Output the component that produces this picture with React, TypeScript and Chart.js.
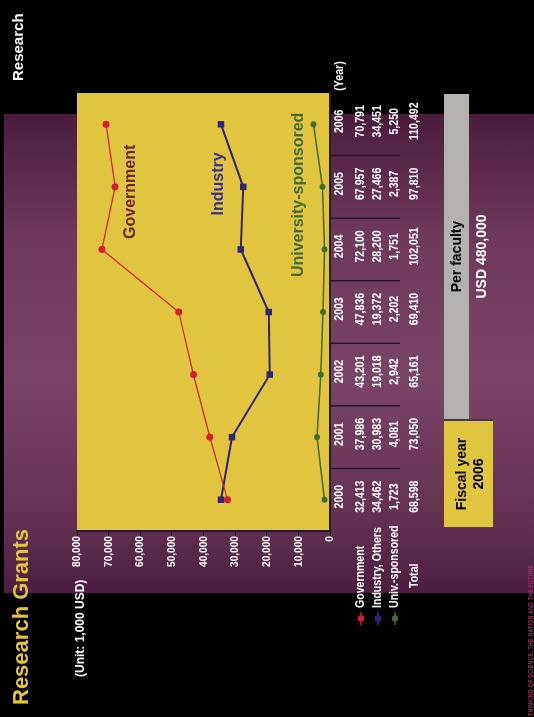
import React, { useEffect, useRef } from 'react';
import { Chart, registerables } from 'chart.js';

Chart.register(...registerables);

// ---- data ----
const YEARS = ['2000', '2001', '2002', '2003', '2004', '2005', '2006'];
const GOVERNMENT = [32413, 37986, 43201, 47836, 72100, 67957, 70791];
const INDUSTRY = [34462, 30983, 19018, 19372, 28200, 27466, 34451];
const UNIV = [1723, 4081, 2942, 2202, 1751, 2387, 5250];
const TOTAL = [68598, 73050, 65161, 69410, 102051, 97810, 110492];
const ROW_LABELS = ['Government', 'Industry, Others', 'Univ.-sponsored', 'Total'];
const SERIES_LABELS = ['Government', 'Industry', 'University-sponsored'];
const Y_MIN = 0;
const Y_MAX = 80000;
const Y_STEP = 10000;

// ---- styles ----
const C_GOV = '#d31f2e';
const C_IND = '#2d2576';
const C_UNI = '#3f6b32';
const C_GOV_LABEL = '#6c2626';
const C_IND_LABEL = '#3a3184';
const C_UNI_LABEL = '#3f6b32';
const PLOT_BG = '#e2c53f';
const FONT = '"Liberation Sans", Arial, sans-serif';

const W = 717;
const H = 534;

function txt(ctx: CanvasRenderingContext2D, s: string, x: number, y: number, font: string, color: string, align: CanvasTextAlign, sx = 1) {
  ctx.save();
  ctx.font = font;
  ctx.fillStyle = color;
  ctx.textAlign = align;
  ctx.textBaseline = 'middle';
  ctx.translate(x, y);
  ctx.scale(sx, 1);
  ctx.fillText(s, 0, 0);
  ctx.restore();
}

const fmt = (v: number) => v.toLocaleString('en-US');

const slidePlugin = {
  id: 'slidePlugin',
  beforeDraw(chart: any) {
    const { ctx, chartArea: a } = chart;
    ctx.save();
    ctx.fillStyle = PLOT_BG;
    ctx.fillRect(a.left, a.top, a.right - a.left, a.bottom - a.top);
    ctx.restore();
  },
  afterDraw(chart: any) {
    const { ctx, chartArea: a } = chart;
    const xs = chart.scales.x;
    const ys = chart.scales.y;
    const tickFont = `bold 11.5px ${FONT}`;
    const tblFont = `bold 12px ${FONT}`;
    const SX = 0.88;

    // y tick labels
    ys.ticks.forEach((t: any) => {
      txt(ctx, fmt(t.value), a.left - 5, ys.getPixelForValue(t.value), tickFont, '#ffffff', 'right', SX);
    });

    // series labels inside plot
    const lblFont = `bold 16px ${FONT}`;
    txt(ctx, SERIES_LABELS[0], xs.getPixelForValue(5) - 5, ys.getPixelForValue(63000), lblFont, C_GOV_LABEL, 'center');
    txt(ctx, SERIES_LABELS[1], xs.getPixelForValue(5) + 3, ys.getPixelForValue(35300), lblFont, C_IND_LABEL, 'center');
    txt(ctx, SERIES_LABELS[2], xs.getPixelForValue(5) - 8, ys.getPixelForValue(9800), lblFont, C_UNI_LABEL, 'center');

    // table
    const yearRow = a.bottom + 10;
    const rowY = [a.bottom + 31, a.bottom + 48, a.bottom + 65, a.bottom + 85];
    const rows = [GOVERNMENT, INDUSTRY, UNIV, TOTAL];
    YEARS.forEach((yr, i) => {
      const cx = xs.getPixelForValue(i) + 3;
      txt(ctx, yr, cx, yearRow, tblFont, '#ffffff', 'center', SX);
      rows.forEach((r, k) => {
        txt(ctx, fmt(r[i]), cx, rowY[k], tblFont, '#ffffff', 'center', SX);
      });
    });
    txt(ctx, '(Year)', a.right + 17, yearRow, tblFont, '#ffffff', 'center', SX);

    // column separators
    ctx.save();
    ctx.strokeStyle = '#2a1726';
    ctx.lineWidth = 1.5;
    for (let i = 0; i < YEARS.length - 1; i++) {
      const bx = (xs.getPixelForValue(i) + xs.getPixelForValue(i + 1)) / 2;
      ctx.beginPath();
      ctx.moveTo(bx, a.bottom);
      ctx.lineTo(bx, a.bottom + 70);
      ctx.stroke();
    }
    ctx.restore();

    // row labels + legend keys
    const keyL = 92;
    const keyR = 105;
    const keyC = 98.5;
    const colors = [C_GOV, C_IND, C_UNI];
    for (let k = 0; k < 3; k++) {
      const y = rowY[k];
      ctx.save();
      ctx.strokeStyle = colors[k];
      ctx.fillStyle = colors[k];
      ctx.lineWidth = k === 1 ? 2 : 1.5;
      ctx.beginPath();
      ctx.moveTo(keyL, y);
      ctx.lineTo(keyR, y);
      ctx.stroke();
      ctx.beginPath();
      if (k === 1) ctx.rect(keyC - 3, y - 3, 6, 6);
      else ctx.arc(keyC, y, 3.2, 0, Math.PI * 2);
      ctx.fill();
      ctx.restore();
      txt(ctx, ROW_LABELS[k], 109, y, tblFont, '#ffffff', 'left', SX);
    }
    txt(ctx, ROW_LABELS[3], 129, rowY[3], tblFont, '#ffffff', 'left', SX);
  },
};

function SlideChart() {
  const ref = useRef<HTMLCanvasElement | null>(null);
  useEffect(() => {
    if (!ref.current) return;
    const chart = new Chart(ref.current, {
      type: 'line',
      data: {
        labels: YEARS,
        datasets: [
          {
            label: ROW_LABELS[0],
            data: GOVERNMENT,
            borderColor: C_GOV,
            backgroundColor: C_GOV,
            borderWidth: 1.2,
            pointStyle: 'circle',
            pointRadius: 3.5,
            pointBorderWidth: 0,
            tension: 0,
          },
          {
            label: ROW_LABELS[1],
            data: INDUSTRY,
            borderColor: C_IND,
            backgroundColor: C_IND,
            borderWidth: 2,
            pointStyle: 'rect',
            pointRadius: 4.6,
            pointBorderWidth: 0,
            tension: 0,
          },
          {
            label: ROW_LABELS[2],
            data: UNIV,
            borderColor: C_UNI,
            backgroundColor: C_UNI,
            borderWidth: 1.5,
            pointStyle: 'circle',
            pointRadius: 3,
            pointBorderWidth: 0,
            tension: 0,
          },
        ],
      },
      options: {
        responsive: false,
        maintainAspectRatio: false,
        animation: false,
        devicePixelRatio: 1,
        layout: { padding: { left: 146, right: 93, top: 77, bottom: 204 } },
        plugins: { legend: { display: false }, tooltip: { enabled: false }, title: { display: false } },
        scales: {
          x: {
            type: 'category',
            offset: true,
            grid: { display: true, drawOnChartArea: false, drawTicks: false },
            border: { display: true, color: '#1f1f1f', width: 2 },
            ticks: { display: false },
            afterFit: (s: any) => { s.height = 0; },
          },
          y: {
            min: Y_MIN,
            max: Y_MAX,
            ticks: { stepSize: Y_STEP, color: 'rgba(0,0,0,0)', font: { size: 11 } },
            grid: { drawOnChartArea: false, drawTicks: true, tickLength: 5, color: '#1f1f1f', lineWidth: 1 },
            border: { display: true, color: '#1f1f1f', width: 2 },
            afterFit: (s: any) => { s.width = 40; },
          },
        },
      },
      plugins: [slidePlugin],
    } as any);
    return () => chart.destroy();
  }, []);
  return (
    <canvas
      ref={ref}
      width={W}
      height={H}
      style={{ position: 'absolute', left: 0, top: 0, width: W, height: H, display: 'block' }}
    />
  );
}

export default function App() {
  const abs = (o: React.CSSProperties): React.CSSProperties => ({ position: 'absolute', whiteSpace: 'nowrap', ...o });
  return (
    <div
      style={{
        position: 'fixed',
        left: 0,
        top: 0,
        width: W,
        height: H,
        background: '#000',
        overflow: 'hidden',
        transformOrigin: '0 0',
        transform: 'translateY(717px) rotate(-90deg)',
        fontFamily: FONT,
        fontWeight: 'bold',
      }}
    >
      {/* purple band */}
      <div
        style={abs({
          left: 124,
          top: 4,
          width: 479,
          height: 530,
          background:
            'linear-gradient(to right, #4a1e40 0%, #633052 15%, #7a4467 45%, #6e395b 75%, #4a1c3c 100%)',
        })}
      />
      {/* footer motto */}
      <div
        style={abs({
          left: 1,
          top: 527,
          fontSize: 7,
          lineHeight: 1,
          color: '#9a2f68',
          transform: 'scaleX(0.75)',
          transformOrigin: '0 0',
          letterSpacing: 0.3,
        })}
      >
        THINKING OF SCIENCE, THE NATION AND THE FUTURE
      </div>
      <SlideChart />
      {/* title */}
      <div style={abs({ left: 12, top: 10, fontSize: 22, lineHeight: 1, color: '#e3c43b' })}>Research Grants</div>
      <div style={abs({ left: 636, top: 10, fontSize: 15, lineHeight: 1, color: '#ffffff' })}>Research</div>
      <div style={abs({ left: 40, top: 74, fontSize: 12, lineHeight: 1, color: '#ffffff' })}>(Unit: 1,000 USD)</div>
      {/* gray box */}
      <div
        style={abs({
          left: 298,
          top: 444,
          width: 325,
          height: 25,
          background: '#b4b1af',
          color: '#000',
          fontSize: 14,
          lineHeight: '25px',
          textAlign: 'center',
        })}
      >
        Per faculty
      </div>
      <div style={abs({ left: 298, top: 474, width: 325, textAlign: 'center', fontSize: 14, lineHeight: 1, color: '#fff' })}>
        USD 480,000
      </div>
      {/* fiscal year box */}
      <div
        style={abs({
          left: 190,
          top: 444,
          width: 108,
          height: 49,
          background: PLOT_BG,
          color: '#000',
          fontSize: 14,
          lineHeight: '17px',
          textAlign: 'center',
          boxSizing: 'border-box',
          paddingTop: 8.6,
          borderRight: '2px solid #4a3b3b',
        })}
      >
        Fiscal year
        <br />
        2006
      </div>
    </div>
  );
}
